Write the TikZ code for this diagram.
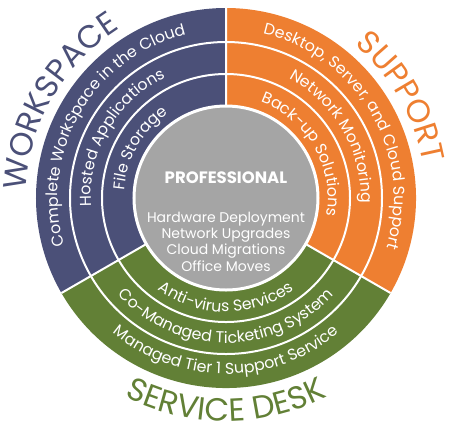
\documentclass[tikz,border=0pt]{standalone}
\usepackage{fontspec}
\setmainfont{Poppins}
\usetikzlibrary{decorations.text}
\definecolor{wsblue}{HTML}{4B5078}
\definecolor{suporange}{HTML}{EE7F31}
\definecolor{sdgreen}{HTML}{628036}
\definecolor{progray}{HTML}{A5A5A5}
\newcommand{\ringfont}{\fontsize{15.8bp}{18bp}\selectfont\color{white}}
\newcommand{\bigfont}{\fontsize{32bp}{36bp}\selectfont}

\begin{document}
\begin{tikzpicture}[x=1bp,y=1bp,
		sep/.style={white,line width=2bp},
		ringtext/.style={decorate,decoration={text along path,text align=center,text={|\ringfont|#1}}},
		bigtext/.style 2 args={decorate,decoration={text along path,text align=center,text={|\bigfont\color{#1}|#2}}}]
		\useasboundingbox (-226,-232) rectangle (224,198);
		% sectors
		\fill[wsblue]    (0,0) -- (90:190)  arc[start angle=90,end angle=210,radius=190] -- cycle;
		\fill[sdgreen]   (0,0) -- (210:190) arc[start angle=210,end angle=330,radius=190] -- cycle;
		\fill[suporange] (0,0) -- (330:190) arc[start angle=-30,end angle=90,radius=190] -- cycle;
		\draw[sep] (0,0) -- (90:190) (0,0) -- (210:190) (0,0) -- (330:190);
		\draw[sep] (0,0) circle (156) (0,0) circle (124);
		\draw[sep,line width=3bp,fill=progray] (0,0) circle (92);
		
		% workspace rings
		\path[ringtext={Complete WorkSpace in the Cloud}] (210:168) arc[start angle=210,end angle=90,radius=168];
		\path[ringtext={Hosted Applications}] (210:135) arc[start angle=210,end angle=90,radius=135];
		\path[ringtext={File Storage}] (210:102) arc[start angle=210,end angle=90,radius=102];
		% support rings
		\path[ringtext={Desktop, Server, and Cloud Support}] (90:168) arc[start angle=90,end angle=-30,radius=168];
		\path[ringtext={Network Monitoring}] (90:135) arc[start angle=90,end angle=-30,radius=135];
		\path[ringtext={Back-up Solutions}] (90:102) arc[start angle=90,end angle=-30,radius=102];
		% service desk rings
		\path[ringtext={Managed Tier 1 Support Service}] (210:176) arc[start angle=210,end angle=330,radius=176];
		\path[ringtext={Co-Managed Ticketing System}] (210:145) arc[start angle=210,end angle=330,radius=145];
		\path[ringtext={Anti-virus Services}] (210:114) arc[start angle=210,end angle=330,radius=114];
		
		% outer labels
		\path[bigtext={wsblue}{WORKSPACE}] (210:200) arc[start angle=210,end angle=90,radius=200];
		\path[bigtext={suporange}{SUPPORT}] (90:200) arc[start angle=90,end angle=-30,radius=200];
		\path[bigtext={sdgreen}{SERVICE DESK}] (210:223) arc[start angle=210,end angle=330,radius=223];
		
		% centre
		\node[font=\fontsize{16.5bp}{20bp}\selectfont\bfseries,text=white] (pro) at (0,20) {PROFESSIONAL};
		\node[align=center,font=\fontsize{14bp}{16.4bp}\selectfont,text=white] (jobs) at (0,-43.5)
		{Hardware Deployment\\Network Upgrades\\Cloud Migrations\\Office Moves};
\end{tikzpicture}
\end{document}
